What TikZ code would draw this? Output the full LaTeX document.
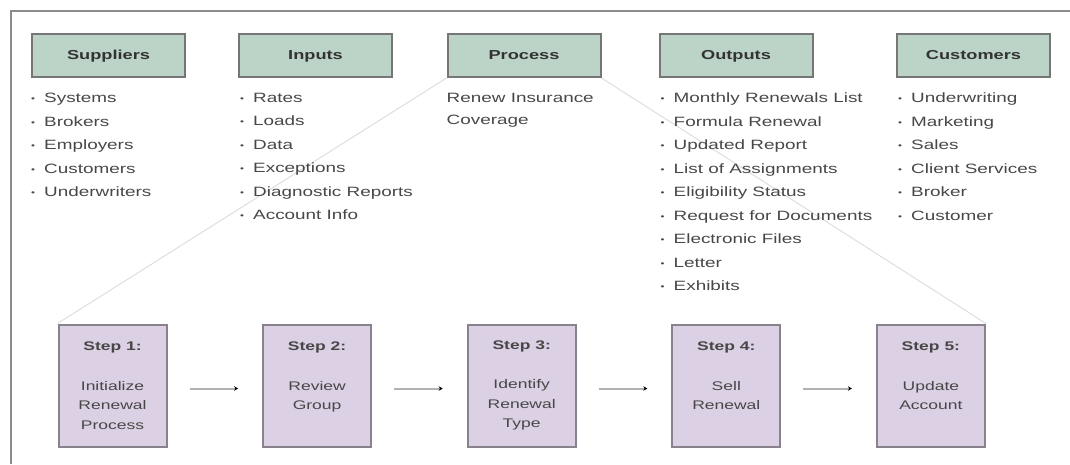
\documentclass[tikz,border=0pt]{standalone}
\usepackage{fontspec}
\setmainfont{Liberation Sans}[FakeStretch=1.4]
\usepackage{tikz}
\usetikzlibrary{positioning,arrows.meta,backgrounds}
\definecolor{hdrfill}{HTML}{BCD3C7}
\definecolor{hdrline}{HTML}{767676}
\definecolor{stepfill}{HTML}{DCD0E4}
\definecolor{stepline}{HTML}{88828D}
\definecolor{txtcol}{HTML}{474747}
\newcommand{\itm}{\makebox[13pt][l]{\raisebox{1pt}{\fontsize{8}{8}\selectfont\textbullet}}}

\begin{document}
\begin{tikzpicture}[x=1pt,y=1pt,
    hdr/.style={rectangle,draw=hdrline,line width=2pt,fill=hdrfill,minimum width=153pt,minimum height=43pt,text height=9.5pt,text depth=2.5pt,font=\fontsize{13}{16}\selectfont\bfseries,text=black!80},
    lst/.style={align=left,inner sep=0pt,text=txtcol,font=\fontsize{13.5}{23.5}\selectfont},
    stepbox/.style={rectangle,draw=stepline,line width=2pt,fill=stepfill,minimum width=108pt,minimum height=122pt,align=center,text=txtcol,font=\fontsize{12.5}{19.5}\selectfont},
    arrow/.style={-{Stealth[length=4pt,width=4.5pt,black]},draw=black!30,line width=2pt,shorten <=22pt,shorten >=24pt},
    diag/.style={draw=black!13,line width=1pt},
    frame/.style={draw=black!45,line width=2pt}
]
\useasboundingbox (0,0) rectangle (1070,-464);
\draw[frame] (11,-464) -- (11,-10.5) -- (1070,-10.5);

\node[hdr] (sup) at (108.5,-55.5) {Suppliers};
\node[hdr] (inp) at (315.5,-55.5) {Inputs};
\node[hdr] (proc) at (524,-55.5) {Process};
\node[hdr] (outp) at (736,-55.5) {Outputs};
\node[hdr] (cust) at (973.5,-55.5) {Customers};

\node[lst,below right=15pt and 0pt of sup.south west] (supl) {\itm Systems\\\itm Brokers\\\itm Employers\\\itm Customers\\\itm Underwriters};
\node[lst,below right=15pt and 2pt of inp.south west] (inpl) {\itm Rates\\\itm Loads\\\itm Data\\\itm Exceptions\\\itm Diagnostic Reports\\\itm Account Info};
\node[lst,below right=15pt and 0pt of proc.south west,font=\fontsize{13.5}{22}\selectfont] (procl) {Renew Insurance\\Coverage};
\node[lst,below right=15pt and 2pt of outp.south west] (outpl) {\itm Monthly Renewals List\\\itm Formula Renewal\\\itm Updated Report\\\itm List of Assignments\\\itm Eligibility Status\\\itm Request for Documents\\\itm Electronic Files\\\itm Letter\\\itm Exhibits};
\node[lst,below right=15pt and 2pt of cust.south west] (custl) {\itm Underwriting\\\itm Marketing\\\itm Sales\\\itm Client Services\\\itm Broker\\\itm Customer};

\node[stepbox] (s1) at (112.5,-385.5) {\textbf{Step 1:}\\[20pt]Initialize\\Renewal\\Process};
\node[stepbox,right=94.6pt of s1] (s2) {\textbf{Step 2:}\\[20pt]Review\\Group\\~};
\node[stepbox,right=94.6pt of s2] (s3) {\textbf{Step 3:}\\[20pt]Identify\\Renewal\\Type};
\node[stepbox,right=94.6pt of s3] (s4) {\textbf{Step 4:}\\[20pt]Sell\\Renewal\\~};
\node[stepbox,right=94.6pt of s4] (s5) {\textbf{Step 5:}\\[20pt]Update\\Account\\~};

\draw[arrow] ([yshift=-3pt]s1.east) -- ([yshift=-3pt]s2.west);
\draw[arrow] ([yshift=-3pt]s2.east) -- ([yshift=-3pt]s3.west);
\draw[arrow] ([yshift=-3pt]s3.east) -- ([yshift=-3pt]s4.west);
\draw[arrow] ([yshift=-3pt]s4.east) -- ([yshift=-3pt]s5.west);

\begin{scope}[on background layer]
\draw[diag] (proc.south west) -- (s1.north west);
\draw[diag] (proc.south east) -- (s5.north east);
\end{scope}
\end{tikzpicture}
\end{document}
